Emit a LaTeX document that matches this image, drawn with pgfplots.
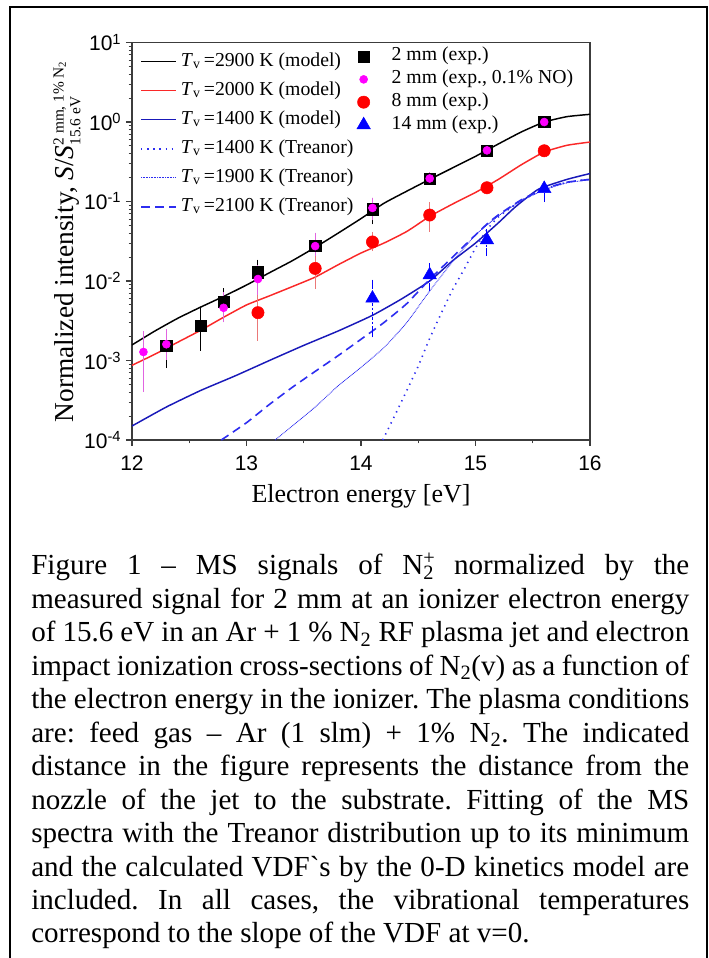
\documentclass[border=0pt]{standalone}
\usepackage{fontspec}
\setmainfont{Liberation Serif}
\newfontfamily\arial{Liberation Sans}
\usepackage{pgfplots}
\usepackage{pgfplotstable}
\pgfplotsset{compat=1.18}

\definecolor{myred}{RGB}{250,40,40}
\definecolor{myblue}{RGB}{25,25,185}
\definecolor{tblue}{RGB}{45,45,240}
\definecolor{mag}{RGB}{255,0,255}
\definecolor{magerr}{RGB}{225,100,225}
\definecolor{rederr}{RGB}{235,120,120}
\definecolor{axgray}{RGB}{60,60,60}

\pgfplotstableread{
x y
12.0 1.57e-3
12.2 2.35e-3
12.4 3.4e-3
12.6 4.7e-3
12.8 6.4e-3
13.0 8.9e-3
13.2 1.27e-2
13.4 1.8e-2
13.6 2.65e-2
13.8 4.0e-2
14.0 6.1e-2
14.2 9.5e-2
14.4 0.135
14.6 0.19
14.8 0.265
15.0 0.37
15.2 0.53
15.4 0.75
15.6 1.0
15.8 1.17
16.0 1.25
}\tblack

\pgfplotstableread{
x y
12.0 8.7e-4
12.2 1.2e-3
12.4 1.7e-3
12.6 2.4e-3
12.8 3.5e-3
13.0 5.0e-3
13.2 6.5e-3
13.4 8.5e-3
13.6 1.12e-2
13.8 1.6e-2
14.0 2.25e-2
14.2 3.0e-2
14.4 4.2e-2
14.6 6.5e-2
14.8 0.093
15.0 0.13
15.2 0.19
15.4 0.29
15.6 0.42
15.8 0.51
16.0 0.56
}\tred

\pgfplotstableread{
x y
12.0 1.5e-4
12.3 2.6e-4
12.6 4.2e-4
12.9 6.4e-4
13.2 1.0e-3
13.5 1.55e-3
13.8 2.35e-3
14.1 3.7e-3
14.35 5.9e-3
14.6 1.0e-2
14.8 1.8e-2
15.0 3.0e-2
15.2 5.4e-2
15.35 8.6e-2
15.55 0.143
15.8 0.19
16.0 0.225
}\tblue

\pgfplotstableread{
x y
14.19 1.0e-4
14.3 2.1e-4
14.4 4.2e-4
14.5 8.5e-4
14.6 1.9e-3
14.7 3.9e-3
14.8 7.8e-3
14.9 1.4e-2
15.0 2.6e-2
15.1 4.4e-2
15.2 6.4e-2
15.4 0.103
15.6 0.142
15.8 0.175
16.0 0.19
}\ttreaA

\pgfplotstableread{
x y
13.25 1.0e-4
13.4 1.5e-4
13.6 2.6e-4
13.8 4.8e-4
14.0 8.2e-4
14.2 1.45e-3
14.4 3.0e-3
14.6 7.5e-3
14.8 1.75e-2
15.0 3.8e-2
15.2 6.6e-2
15.4 0.102
15.6 0.14
15.8 0.172
16.0 0.188
}\ttreaB

\pgfplotstableread{
x y
12.78 1.0e-4
13.0 1.65e-4
13.2 2.8e-4
13.4 4.6e-4
13.6 7.3e-4
13.8 1.15e-3
14.0 1.85e-3
14.2 3.0e-3
14.4 5.2e-3
14.6 1.05e-2
14.8 2.0e-2
15.0 3.8e-2
15.1 5.2e-2
15.2 6.8e-2
15.4 0.105
15.6 0.145
15.8 0.175
16.0 0.19
}\ttreaC

\pgfplotstableread{
x y ep em
12.3 1.55e-3 0.65e-3 0.65e-3
12.6 2.75e-3 1.45e-3 1.25e-3
12.8 5.5e-3 1.7e-3 1.7e-3
13.1 1.29e-2 3.6e-3 3.4e-3
13.6 2.78e-2 0.82e-2 0.88e-2
14.1 0.080 0.02 0.022
14.6 0.192 0.01 0.01
15.1 0.435 0.02 0.02
15.6 1.0 0.03 0.03
}\dsq

\pgfplotstableread{
x y ep em
12.1 1.28e-3 0.82e-3 0.83e-3
12.3 1.6e-3 0.6e-3 0.45e-3
12.8 4.6e-3 1.9e-3 1.2e-3
13.1 1.06e-2 3.4e-3 3.1e-3
13.6 2.75e-2 0.85e-2 0.85e-2
14.1 0.083 0.017 0.018
14.6 0.195 0.012 0.012
15.1 0.44 0.02 0.02
15.6 1.0 0.03 0.03
}\dmag

\pgfplotstableread{
x y ep em
13.1 4.0e-3 2.0e-3 2.0e-3
13.6 1.44e-2 0.4e-2 0.55e-2
14.1 0.031 0.006 0.004
14.6 0.0676 0.019 0.021
15.1 0.149 0.01 0.01
15.6 0.435 0.02 0.02
}\dred

\pgfplotstableread{
x y ep em
14.1 6.05e-3 3.25e-3 3.85e-3
14.6 0.0119 0.003 0.0034
15.1 0.0328 0.007 0.0094
15.6 0.145 0.015 0.035
}\dtri

\begin{document}
\begin{tikzpicture}
\useasboundingbox (0,0) rectangle (531pt,718.5pt);
\draw[line width=1.5pt] (7.125pt,0) -- (7.125pt,713.6pt) -- (529.9pt,713.6pt) -- (529.9pt,0);

\begin{axis}[
  at={(99pt,388.5pt)}, anchor=south west,
  scale only axis, width=343.5pt, height=298.1pt,
  xmin=12, xmax=16, ymin=1e-4, ymax=10, ymode=log, log basis y=10,
  xtick={12,13,14,15,16}, xticklabels={12,13,14,15,16},
  minor xtick={12.5,13.5,14.5,15.5},
  ytick={1e-4,1e-3,1e-2,1e-1,1,10},
  yticklabels={10\textsuperscript{-4},10\textsuperscript{-3},10\textsuperscript{-2},10\textsuperscript{-1},10\textsuperscript{0},10\textsuperscript{1}},
  minor ytick={2e-4,3e-4,4e-4,5e-4,6e-4,7e-4,8e-4,9e-4,2e-3,3e-3,4e-3,5e-3,6e-3,7e-3,8e-3,9e-3,2e-2,3e-2,4e-2,5e-2,6e-2,7e-2,8e-2,9e-2,0.2,0.3,0.4,0.5,0.6,0.7,0.8,0.9,2,3,4,5,6,7,8,9},
  tick align=outside, tick pos=left,
  major tick length=4.5pt, minor tick length=2.6pt,
  axis line style={line width=1pt, axgray},
  every tick/.style={line width=0.8pt, axgray},
  tick label style={font=\arial\fontsize{15.75pt}{15.75pt}\selectfont, text=black},
  xticklabel style={yshift=-4pt},
  xlabel={Electron energy [eV]},
  ylabel={Normalized intensity, \textit{S}/\textit{S}$^{\mbox{\fontsize{11.5pt}{11.5pt}\selectfont 2 mm, 1\% N\textsubscript{2}}}_{\mbox{\fontsize{11.5pt}{11.5pt}\selectfont 15.6 eV}}$},
  label style={font=\fontsize{19.5pt}{19.5pt}\selectfont},
  ylabel style={font=\fontsize{20.5pt}{20.5pt}\selectfont, at={(axis description cs:-0.142,0.5)}, anchor=center},
  xlabel style={at={(axis description cs:0.5,0)}, anchor=base, yshift=-46.5pt},
  legend style={at={(0.0175,0.975)}, anchor=north west, draw=none, fill=none,
    inner sep=0pt, row sep=8.25pt,
    font=\fontsize{14.8pt}{14.8pt}\selectfont,
    nodes={inner sep=0pt, text height=10pt, text depth=3.5pt},
    /tikz/every odd column/.append style={column sep=3pt}},
  legend cell align=left,
  legend image code/.code={\draw[#1] (0pt,0pt) -- (26.25pt,0pt);},
]
\addplot[black, line width=1.1pt, smooth, tension=0.3] table {\tblack};
\addlegendentry{\textit{T}\textsubscript{v}\,=2900 K (model)}
\addplot[myred, line width=1.1pt, smooth, tension=0.3] table {\tred};
\addlegendentry{\textit{T}\textsubscript{v}\,=2000 K (model)}
\addplot[myblue, line width=1.1pt, smooth, tension=0.3] table {\tblue};
\addlegendentry{\textit{T}\textsubscript{v}\,=1400 K (model)}
\addplot[tblue, line width=1.2pt, dash pattern=on 1pt off 3.6pt, smooth, tension=0.3] table {\ttreaA};
\addlegendentry{\textit{T}\textsubscript{v}\,=1400 K (Treanor)}
\addplot[tblue, line width=0.7pt, dash pattern=on 0.6pt off 0.6pt, smooth, tension=0.3] table {\ttreaB};
\addlegendentry{\textit{T}\textsubscript{v}\,=1900 K (Treanor)}
\addplot[tblue, line width=1.2pt, dash pattern=on 6.5pt off 4pt, smooth, tension=0.3] table {\ttreaC};
\addlegendentry{\textit{T}\textsubscript{v}\,=2100 K (Treanor)}
\end{axis}

\begin{axis}[
  at={(99pt,388.5pt)}, anchor=south west,
  scale only axis, width=343.5pt, height=298.1pt,
  xmin=12, xmax=16, ymin=1e-4, ymax=10, ymode=log, log basis y=10,
  hide axis,
  legend style={at={(0.4906,0.988)}, anchor=north west, draw=none, fill=none,
    inner sep=0pt, row sep=3.6pt,
    font=\fontsize{14.8pt}{14.8pt}\selectfont,
    nodes={inner sep=0pt, text height=10pt, text depth=3.5pt},
    /tikz/every odd column/.append style={column sep=16pt}},
  legend cell align=left,
]
\addplot[only marks, mark=square*, mark size=4.2pt, mark options={fill=black, draw=black},
  error bars/.cd, y dir=both, y explicit, error bar style={black, line width=0.8pt},
  error mark options={black, mark size=3pt, line width=0.8pt}]
  table[x=x, y=y, y error plus=ep, y error minus=em] {\dsq};
\addlegendentry{2 mm (exp.)}
\addplot[only marks, mark=*, mark size=3pt, mark options={fill=mag, draw=mag},
  error bars/.cd, y dir=both, y explicit, error bar style={magerr, line width=0.8pt},
  error mark options={magerr, mark size=3pt, line width=0.8pt}]
  table[x=x, y=y, y error plus=ep, y error minus=em] {\dmag};
\addlegendentry{2 mm (exp., 0.1\% NO)}
\addplot[only marks, mark=*, mark size=4.6pt, mark options={fill=red, draw=red},
  error bars/.cd, y dir=both, y explicit, error bar style={rederr, line width=0.8pt},
  error mark options={rederr, mark size=3pt, line width=0.8pt}]
  table[x=x, y=y, y error plus=ep, y error minus=em] {\dred};
\addlegendentry{8 mm (exp.)}
\addplot[only marks, mark=triangle*, mark size=5.8pt, mark options={fill=blue, draw=blue},
  error bars/.cd, y dir=both, y explicit, error bar style={blue, line width=0.8pt, dash pattern=on 2pt off 1.5pt},
  error mark options={blue, mark size=3pt, line width=0.8pt, solid}]
  table[x=x, y=y, y error plus=ep, y error minus=em] {\dtri};
\addlegendentry{14 mm (exp.)}
\end{axis}

\begin{scope}[font=\fontsize{21.8pt}{25pt}\selectfont\frenchspacing]
\node[anchor=base west, inner sep=0pt] at (23.25pt,287.25pt) {\makebox[493.5pt][s]{Figure 1 -- MS signals of N\rlap{\textsuperscript{+}}\textsubscript{2} normalized by the}};
\node[anchor=base west, inner sep=0pt] at (23.25pt,262.16pt) {\makebox[493.5pt][s]{measured signal for 2 mm at an ionizer electron energy}};
\node[anchor=base west, inner sep=0pt] at (23.25pt,237.08pt) {\makebox[493.5pt][s]{of 15.6 eV in an Ar + 1 \% N\textsubscript{2} RF plasma jet and electron}};
\node[anchor=base west, inner sep=0pt] at (23.25pt,211.99pt) {\makebox[493.5pt][s]{impact ionization cross-sections of N\textsubscript{2}(v) as a function of}};
\node[anchor=base west, inner sep=0pt] at (23.25pt,186.9pt) {\makebox[493.5pt][s]{the electron energy in the ionizer. The plasma conditions}};
\node[anchor=base west, inner sep=0pt] at (23.25pt,161.81pt) {\makebox[493.5pt][s]{are: feed gas -- Ar (1 slm) + 1\% N\textsubscript{2}. The indicated}};
\node[anchor=base west, inner sep=0pt] at (23.25pt,136.73pt) {\makebox[493.5pt][s]{distance in the figure represents the distance from the}};
\node[anchor=base west, inner sep=0pt] at (23.25pt,111.64pt) {\makebox[493.5pt][s]{nozzle of the jet to the substrate. Fitting of the MS}};
\node[anchor=base west, inner sep=0pt] at (23.25pt,86.55pt) {\makebox[493.5pt][s]{spectra with the Treanor distribution up to its minimum}};
\node[anchor=base west, inner sep=0pt] at (23.25pt,61.46pt) {\makebox[493.5pt][s]{and the calculated VDF\textasciigrave s by the 0-D kinetics model are}};
\node[anchor=base west, inner sep=0pt] at (23.25pt,36.38pt) {\makebox[493.5pt][s]{included. In all cases, the vibrational temperatures}};
\node[anchor=base west, inner sep=0pt] at (23.25pt,11.29pt) {correspond to the slope of the VDF at v=0.};
\end{scope}
\end{tikzpicture}
\end{document}
